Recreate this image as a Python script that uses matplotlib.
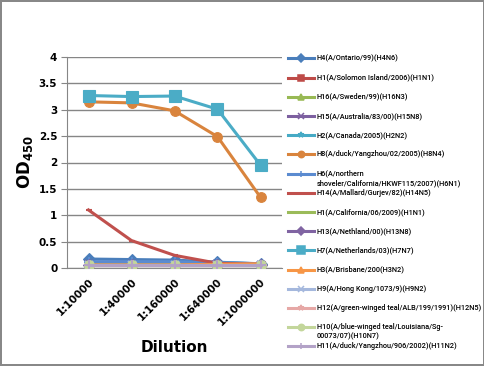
import matplotlib
matplotlib.use("Agg")
import matplotlib.pyplot as plt
from matplotlib.lines import Line2D

# dilution categories
dilutions = ["1:10000", "1:40000", "1:160000", "1:640000", "1:1000000"]

# OD450 readings per strain
h4_ontario = [0.17, 0.16, 0.15, 0.11, 0.08]
h1_solomon = [0.05, 0.05, 0.05, 0.05, 0.05]
h16_sweden = [0.08, 0.08, 0.09, 0.09, 0.07]
h15_australia = [0.07, 0.07, 0.07, 0.07, 0.06]
h2_canada = [0.10, 0.10, 0.10, 0.10, 0.08]
h8_yangzhou = [3.15, 3.13, 2.98, 2.49, 1.34]
h6_shoveler = [0.12, 0.12, 0.12, 0.10, 0.08]
h14_mallard = [1.10, 0.52, 0.24, 0.09, 0.07]
h1_california = [0.06, 0.06, 0.06, 0.06, 0.06]
h13_nethland = [0.06, 0.06, 0.06, 0.06, 0.06]
h7_netherlands = [3.27, 3.25, 3.26, 3.01, 1.95]
h3_brisbane = [0.06, 0.06, 0.06, 0.07, 0.08]
h9_hongkong = [0.05, 0.05, 0.05, 0.05, 0.05]
h12_teal = [0.05, 0.05, 0.05, 0.05, 0.05]
h10_teal = [0.06, 0.06, 0.06, 0.06, 0.06]
h11_duck = [0.06, 0.06, 0.06, 0.06, 0.06]

labels = [
    "H4(A/Ontario/99)(H4N6)",
    "H1(A/Solomon Island/2006)(H1N1)",
    "H16(A/Sweden/99)(H16N3)",
    "H15(A/Australia/83/00)(H15N8)",
    "H2(A/Canada/2005)(H2N2)",
    "H8(A/duck/Yangzhou/02/2005)(H8N4)",
    "H6(A/northern\nshoveler/California/HKWF115/2007)(H6N1)",
    "H14(A/Mallard/Gurjev/82)(H14N5)",
    "H1(A/California/06/2009)(H1N1)",
    "H13(A/Nethland/00)(H13N8)",
    "H7(A/Netherlands/03)(H7N7)",
    "H3(A/Brisbane/200(H3N2)",
    "H9(A/Hong Kong/1073/9)(H9N2)",
    "H12(A/green-winged teal/ALB/199/1991)(H12N5)",
    "H10(A/blue-winged teal/Louisiana/Sg-\n00073/07)(H10N7)",
    "H11(A/duck/Yangzhou/906/2002)(H11N2)",
]
series = [h4_ontario, h1_solomon, h16_sweden, h15_australia, h2_canada,
          h8_yangzhou, h6_shoveler, h14_mallard, h1_california, h13_nethland,
          h7_netherlands, h3_brisbane, h9_hongkong, h12_teal, h10_teal, h11_duck]

colors = ["#4A7EBB", "#BE4B48", "#98B954", "#7D60A0", "#46AAC5", "#D9843D",
          "#5B8BD0", "#C0504D", "#9BBB59", "#8064A2", "#4BACC6", "#F79646",
          "#A5B8DD", "#E6A8A6", "#C3D69B", "#B3A2C7"]
markers = ["D", "s", "^", "x", "*", "o", "+", "_", "", "D", "s", "^", "x", "*", "o", "+"]
msizes = [6, 6, 6, 6, 6, 7, 7, 5, 0, 6, 8, 6, 6, 6, 7, 7]

W, H = 485, 366
fig = plt.figure(figsize=(W / 100, H / 100), dpi=100)
fig.patch.set_edgecolor("#888888")
fig.patch.set_linewidth(1.5)

ax = fig.add_axes([67 / W, 1 - 268 / H, 215 / W, 211 / H])
x = range(len(dilutions))
for vals, c, m, ms in zip(series, colors, markers, msizes):
    ax.plot(x, vals, color=c, lw=2.2, marker=m if m else None, markersize=ms,
            markeredgewidth=1.5 if m in ("x", "+", "_") else 0.8,
            markeredgecolor=c, zorder=3)

ax.set_xlim(-0.5, len(dilutions) - 0.5)
ax.set_ylim(0, 4)
ax.set_yticks([0, 0.5, 1, 1.5, 2, 2.5, 3, 3.5, 4])
ax.set_yticklabels(["0", "0.5", "1", "1.5", "2", "2.5", "3", "3.5", "4"])
ax.set_xticks(list(x))
ax.set_xticklabels(dilutions, rotation=45, ha="right", rotation_mode="anchor")
ax.grid(axis="y", color="#868686", lw=1)
ax.set_axisbelow(True)
for s in ("top", "right"):
    ax.spines[s].set_visible(False)
for s in ("left", "bottom"):
    ax.spines[s].set_color("#868686")
ax.tick_params(axis="y", length=4, color="#868686", labelsize=7.5, pad=3)
ax.tick_params(axis="x", length=0, labelsize=7.5, pad=6)
for lab in ax.get_xticklabels() + ax.get_yticklabels():
    lab.set_fontweight("bold")

ax.set_xlabel("Dilution", fontsize=11, fontweight="bold", labelpad=9)
ax.set_ylabel(r"OD$_{\mathbf{450}}$", fontsize=12, fontweight="bold", labelpad=3)

# legend drawn by hand to match the spacing of the original
for i, (lab, c, m, ms) in enumerate(zip(labels, colors, markers, msizes)):
    yp = 1 - (58.3 + 19.2 * i) / H
    fig.add_artist(Line2D([288 / W, 314 / W], [yp, yp], transform=fig.transFigure,
                          color=c, lw=2.2))
    if m:
        fig.add_artist(Line2D([301 / W], [yp], transform=fig.transFigure, color=c,
                              marker=m, markersize=ms * 0.65, markeredgecolor=c,
                              markeredgewidth=1.1))
    fig.text(317 / W, yp + 4 / H, lab, fontsize=5.3, va="top", ha="left",
             family="Roboto", fontweight="medium", linespacing=1.25)

fig.savefig("out.png", dpi=100)
